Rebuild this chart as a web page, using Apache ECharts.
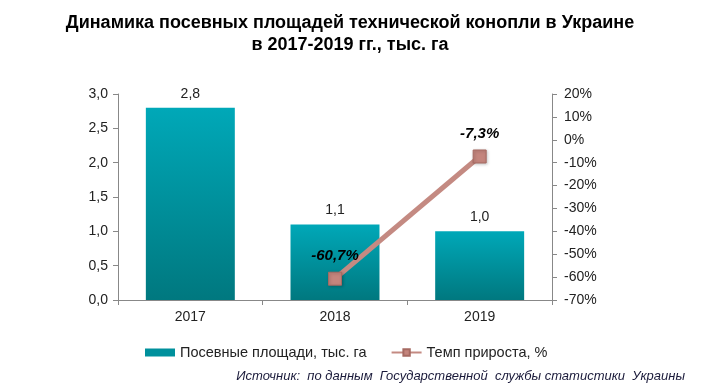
<!DOCTYPE html>
<html>
<head>
<meta charset="utf-8">
<script src="https://cdn.jsdelivr.net/npm/echarts@6/dist/echarts.min.js"></script>
<style>html,body{margin:0;padding:0;background:#fff;}#c{width:709px;height:392px;}</style>
</head>
<body>
<div id="c"></div>
<script>
const categories = ['2017', '2018', '2019'];
const areaValues = [2.8, 1.1, 1.0];
const growthValues = [null, -60.7, -7.3];
const titleLines = ['Динамика посевных площадей технической конопли в Украине', 'в 2017-2019 гг., тыс. га'];
const seriesNames = ['Посевные площади, тыс. га', 'Темп прироста, %'];
const sourceText = 'Источник:  по данным  Государственной  службы статистики  Украины';

const FONT = '"Liberation Sans", Arial, sans-serif';
const chart = echarts.init(document.getElementById('c'), null, {renderer: 'canvas'});
const comma = v => String(v).replace('.', ',');

chart.setOption({
  backgroundColor: '#fff',
  animation: false,
  title: {
    text: titleLines.join('\n'),
    left: 345, top: 7, textAlign: 'center',
    textStyle: {fontFamily: FONT, fontWeight: 'bold', fontSize: 18, lineHeight: 22, color: '#000'}
  },
  legend: {
    left: 140, top: 340,
    itemGap: 24,
    itemWidth: 30, itemHeight: 8,
    textStyle: {fontFamily: FONT, fontSize: 14.5, color: '#222'},
    data: [
      {name: seriesNames[0], icon: 'rect', itemStyle: {color: '#00909c'}},
      {name: seriesNames[1]}
    ]
  },
  graphic: [{
    type: 'text', right: 24, top: 370,
    style: {text: sourceText, font: 'italic 13px ' + FONT, fill: '#1a1a3a'}
  }],
  grid: {left: 118, right: 157, top: 94, bottom: 92},
  xAxis: {
    type: 'category', data: categories,
    axisLine: {lineStyle: {color: '#888'}},
    axisTick: {show: true, alignWithLabel: false, lineStyle: {color: '#888'}, length: 5},
    axisLabel: {fontFamily: FONT, fontSize: 14, color: '#222', margin: 10}
  },
  yAxis: [{
    type: 'value', min: 0, max: 3, interval: 0.5,
    axisLine: {show: true, lineStyle: {color: '#888'}},
    axisTick: {show: true, length: 5, lineStyle: {color: '#888'}},
    splitLine: {show: false},
    axisLabel: {fontFamily: FONT, fontSize: 14, color: '#222', margin: 10,
      formatter: v => v.toFixed(1).replace('.', ',')}
  }, {
    type: 'value', min: -70, max: 20, interval: 10, position: 'right',
    axisLine: {show: true, lineStyle: {color: '#888'}},
    axisTick: {show: true, length: 5, lineStyle: {color: '#888'}},
    splitLine: {show: false},
    axisLabel: {fontFamily: FONT, fontSize: 14, color: '#222', margin: 12,
      formatter: v => v + '%'}
  }],
  series: [{
    name: seriesNames[0], type: 'bar', data: areaValues, barWidth: '61.5%',
    itemStyle: {color: new echarts.graphic.LinearGradient(0, 0, 0, 1, [
      {offset: 0, color: '#00a8b8'}, {offset: 1, color: '#00787f'}])},
    label: {show: true, position: 'top', distance: 7, fontFamily: FONT, fontSize: 14, color: '#222',
      formatter: p => p.value.toFixed(1).replace('.', ',')}
  }, {
    name: seriesNames[1], type: 'line', yAxisIndex: 1, data: growthValues,
    symbol: 'rect', symbolSize: 13,
    lineStyle: {color: '#c48a82', width: 5},
    itemStyle: {color: '#c4857d', borderColor: '#a66a62', borderWidth: 1,
      shadowColor: 'rgba(0,0,0,0.25)', shadowBlur: 3, shadowOffsetX: 1, shadowOffsetY: 1},
    label: {show: true, position: 'top', distance: 8, fontFamily: FONT, fontSize: 15,
      fontWeight: 'bold', fontStyle: 'italic', color: '#000',
      formatter: p => comma(p.value) + '%'},
    z: 5
  }]
});
</script>
</body>
</html>
